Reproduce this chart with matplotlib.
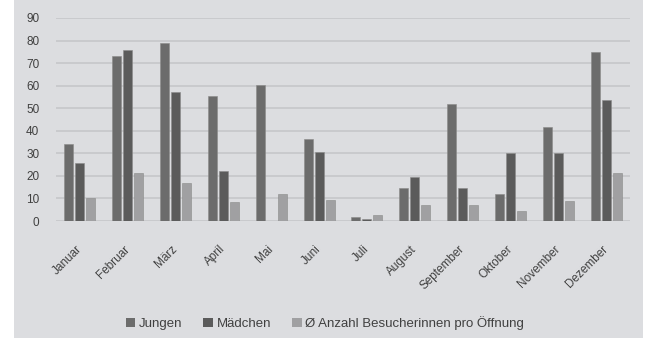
import matplotlib
matplotlib.use("Agg")
import matplotlib.pyplot as plt
from matplotlib.patches import Rectangle
import numpy as np

plt.rcParams['font.family'] = ['Liberation Sans', 'DejaVu Sans']

months = ["Januar", "Februar", "März", "April", "Mai", "Juni", "Juli",
          "August", "September", "Oktober", "November", "Dezember"]
jungen = [34, 73, 79, 55.5, 60.5, 36.5, 1.8, 14.5, 52, 12, 41.5, 75]
maedchen = [25.5, 76, 57, 22, 0, 30.5, 1, 19.7, 14.5, 30, 30, 53.5]
avg_visitors = [10, 21.5, 17, 8.5, 12, 9.5, 2.6, 7, 7, 4.5, 8.7, 21.5]
series_names = ["Jungen", "Mädchen", "Ø Anzahl Besucherinnen pro Öffnung"]
yticks = list(range(0, 100, 10))

bg = "#dcdde0"
colors = ["#6c6c6c", "#5b5b5b", "#a0a0a2"]

fig = plt.figure(figsize=(6.48, 3.38), dpi=100, facecolor="white")
fig.patches.append(Rectangle((14 / 648, 0), (643 - 14) / 648, 1,
                             transform=fig.transFigure, facecolor=bg,
                             edgecolor="none", zorder=-10))

ax = fig.add_axes([56 / 648, 1 - 221 / 338, (630 - 56) / 648, (221 - 18) / 338])
ax.set_facecolor(bg)
ax.set_zorder(1)

x = np.arange(len(months))
w = 0.19
off = 0.23
for i, (vals, c, name) in enumerate(zip([jungen, maedchen, avg_visitors], colors, series_names)):
    ax.bar(x + (i - 1) * off, vals, width=w, color=c, label=name, zorder=3,
           edgecolor="#8a8a8a", linewidth=0.4)

ax.set_xlim(-0.5, len(months) - 0.5)
ax.set_ylim(0, 90)
ax.set_yticks(yticks)
ax.yaxis.grid(True, color="#c6c7ca", linewidth=1.2, zorder=0)
ax.set_axisbelow(True)
for s in ax.spines.values():
    s.set_visible(False)
ax.tick_params(axis="both", length=0, colors="#404040", labelsize=8.5)
ax.tick_params(axis="y", pad=12)
ax.set_xticks(x)
ax.set_xticklabels(months, rotation=45, ha="right", va="center",
                   rotation_mode="anchor", fontsize=8.5)
ax.tick_params(axis="x", pad=19)

handles, labels = ax.get_legend_handles_labels()
leg = fig.legend(handles, labels, loc="center", bbox_to_anchor=(325 / 648, 1 - 323 / 338),
                 ncol=3, frameon=False, fontsize=9.5, handlelength=0.7, handleheight=0.7,
                 handletextpad=0.3, columnspacing=1.6, labelcolor="#404040")
for h in leg.legend_handles:
    h.set_edgecolor("none")

fig.savefig("out.png", dpi=100, facecolor="white")
